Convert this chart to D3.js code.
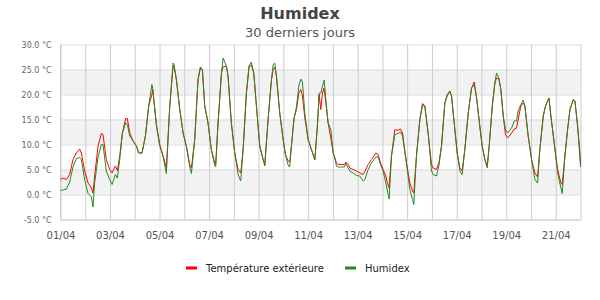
<!DOCTYPE html>
<html>
<head>
<meta charset="utf-8">
<script src="https://cdn.jsdelivr.net/npm/d3@7"></script>
<style>
    body { margin: 0; background: #fff; }
    #chart { width: 600px; height: 300px; }
</style>
</head>
<body>
<div id="chart"></div>
<script>
// Hours since 01/04 00:00
const hours = [
    0, 2.4, 5.7, 8.9, 12.1, 15.4, 18.6, 20.2, 23.4, 26.7, 30.0, 31.5, 33.1, 36.4, 39.6, 41.2,
    44.4, 47.7, 50.0, 53.2, 55.1, 57.4, 60.0, 63.2, 64.8, 67.1, 70.3, 73.5, 75.8, 79.0, 82.3,
    85.5, 88.6, 89.4, 93.0, 96.2, 99.4, 102.6, 105.9, 109.1, 110.0, 112.3, 115.6, 118.8, 122.0,
    125.3, 126.9, 130.1, 133.3, 135.6, 137.5, 139.8, 143.0, 146.2, 149.5, 150.4, 152.7, 156.0,
    157.6, 160.8, 162.4, 165.6, 168.9, 172.1, 174.7, 177.0, 180.2, 182.8, 185.0, 187.3, 189.9,
    193.1, 196.4, 198.0, 201.2, 204.5, 206.1, 207.7, 209.3, 212.5, 215.8, 218.0, 220.6, 222.2,
    223.8, 226.4, 228.7, 231.0, 232.9, 234.5, 236.8, 240.0, 243.2, 246.5, 249.0, 250.7, 252.3,
    253.9, 255.5, 257.8, 259.4, 262.0, 264.3, 265.9, 267.5, 269.1, 272.4, 275.0, 276.6, 278.8,
    280.4, 283.6, 286.9, 290.1, 293.3, 295.0, 298.2, 301.4, 305.6, 307.9, 310.1, 312.7, 315.3,
    316.9, 318.5, 320.8, 324.0, 327.3, 329.5, 331.5, 335.3, 338.6, 341.2, 342.4, 345.0, 348.3,
    350.8, 353.1, 356.3, 359.6, 361.2, 364.4, 366.7, 369.3, 372.5, 374.8, 377.4, 379.0, 381.6,
    384.5, 387.1, 389.3, 391.9, 395.2, 398.4, 401.0, 403.3, 406.5, 408.7, 411.3, 413.6, 415.5,
    418.5, 421.0, 422.6, 424.9, 426.8, 429.1, 431.3, 433.3, 434.9, 437.2, 439.8, 442.0, 443.6,
    446.2, 448.5, 450.1, 453.3, 456.6, 459.8, 462.4, 464.6, 467.9, 470.1, 473.4, 475.3, 478.5,
    481.8, 485.0, 486.3, 488.9, 491.5, 493.8, 497.0, 498.6, 501.2, 503.4, 504.0
];

const tempExt = [
    3.0, 3.3, 3.0, 4.0, 7.0, 8.3, 9.1, 8.3, 4.7, 2.3, 1.3, 0.3, 3.7, 9.7, 12.2, 12.0,
    7.0, 5.0, 4.3, 5.7, 4.8, 7.7, 12.3, 15.2, 15.2, 12.3, 10.7, 9.8, 8.3, 8.3, 11.7,
    17.7, 20.0, 21.0, 14.0, 10.0, 7.8, 5.3, 17.7, 25.5, 25.8, 23.0, 17.0, 12.3, 9.7,
    6.0, 5.3, 11.0, 23.0, 25.3, 25.0, 17.7, 14.3, 9.0, 6.3, 6.0, 14.3, 24.3,
    25.5, 25.7, 23.7, 14.3, 8.3, 5.0, 4.3, 9.0, 20.3, 25.7, 25.8, 24.3, 17.7,
    9.7, 7.0, 6.0, 15.0, 23.0, 25.0, 25.5, 23.7, 16.3, 11.0, 8.0, 6.7, 6.5,
    9.7, 15.3, 17.0, 20.3, 21.0, 19.7, 15.3, 11.0, 9.0, 7.0, 13.7, 20.0, 17.0,
    20.3, 21.3, 17.2, 14.3, 11.3, 8.3, 7.3, 6.3, 6.0, 6.0, 6.0, 6.5, 6.0,
    5.3, 5.0, 4.7, 4.3, 4.0, 4.6, 6.0, 7.0, 8.3, 8.0, 6.3, 5.0, 3.7,
    2.3, 1.3, 7.7, 12.9, 12.9, 13.1, 12.3, 6.3, 2.3, 0.7, 0.3, 7.7, 15.0,
    18.2, 17.7, 12.3, 6.0, 5.3, 5.0, 6.3, 9.7, 18.3, 19.7, 20.7, 19.7, 14.3,
    8.3, 5.3, 4.7, 9.0, 16.3, 21.3, 22.5, 19.3, 13.5, 9.7, 7.0, 5.7, 9.7,
    17.7, 22.3, 23.3, 23.1, 21.0, 15.7, 12.0, 11.3, 11.7, 12.3, 13.1, 13.3, 15.0,
    17.7, 18.3, 17.7, 11.7, 7.0, 4.3, 3.5, 9.0, 15.7, 17.7, 19.3, 15.7, 10.3,
    5.0, 2.3, 2.0, 7.7, 13.0, 17.0, 19.0, 18.7, 13.7, 8.5, 6.0
];

const humidex = [
    0.8, 0.9, 1.1, 2.5, 5.5, 7.2, 7.4, 7.0, 3.0, 0.2, -0.5, -2.5, 2.3, 7.5, 10.0, 10.0,
    4.7, 3.0, 2.0, 4.0, 3.3, 7.0, 12.3, 14.3, 14.0, 11.7, 10.7, 9.7, 8.3, 8.3, 11.7,
    17.7, 22.0, 21.2, 13.7, 9.7, 7.6, 4.2, 17.7, 26.3, 26.0, 23.0, 17.0, 12.3, 9.7,
    5.5, 4.2, 11.0, 23.0, 25.5, 25.0, 17.7, 14.3, 9.0, 5.8, 5.5, 14.3, 24.3,
    27.3, 25.7, 23.7, 14.3, 8.3, 4.0, 2.7, 9.0, 20.3, 25.7, 26.5, 24.3, 17.7,
    9.7, 7.0, 5.7, 15.0, 23.0, 26.0, 26.3, 23.7, 16.3, 11.0, 8.0, 5.9, 5.5,
    9.7, 15.3, 17.5, 21.7, 23.1, 22.5, 16.3, 11.0, 9.0, 6.9, 13.7, 20.3, 20.3,
    21.7, 22.9, 17.7, 14.3, 13.0, 8.3, 7.3, 5.7, 5.5, 5.5, 5.5, 6.2, 5.3,
    4.7, 4.3, 3.8, 3.7, 2.7, 3.0, 5.0, 6.3, 7.5, 7.5, 6.0, 4.7, 2.3,
    0.7, -0.9, 7.7, 12.0, 12.2, 12.5, 11.7, 6.3, 1.0, -1.0, -2.0, 7.7, 15.0,
    17.8, 17.7, 12.3, 4.7, 4.0, 3.7, 5.7, 9.7, 18.3, 20.0, 20.7, 19.7, 14.3,
    8.3, 4.7, 4.0, 9.0, 16.3, 21.3, 22.0, 19.3, 13.5, 9.7, 7.0, 5.3, 9.7,
    17.7, 22.3, 24.3, 23.3, 21.0, 15.7, 13.0, 12.3, 12.7, 13.3, 14.7, 14.7, 16.7,
    18.0, 18.9, 17.7, 11.7, 7.0, 3.0, 2.3, 9.0, 15.7, 17.7, 19.3, 15.7, 10.3,
    4.3, 1.3, 0.2, 7.7, 13.0, 17.0, 19.0, 18.7, 13.7, 7.5, 5.5
];

const yTicks = [-5, 0, 5, 10, 15, 20, 25, 30];
const shadedBands = [[0, 5], [10, 15], [20, 25]];
const seriesNames = ["Température extérieure", "Humidex"];
const seriesColors = ["#ff0000", "#228b22"];

class HumidexChart {
    constructor(parentElement) {
        this.parentElement = parentElement;
        this.start = Date.UTC(2024, 3, 1);
        this.initVis();
    }

    initVis() {
        let vis = this;

        vis.margin = {top: 44.5, right: 19.5, bottom: 80.5, left: 60.5};
        vis.width = 600 - vis.margin.left - vis.margin.right;
        vis.height = 300 - vis.margin.top - vis.margin.bottom;

        vis.root = d3.select(`#${vis.parentElement}`)
            .append("svg")
            .attr("width", 600)
            .attr("height", 300)
            .style("font-family", "'DejaVu Sans', sans-serif");

        vis.svg = vis.root.append("g")
            .attr("transform", `translate(${vis.margin.left},${vis.margin.top})`);

        // Titles
        vis.root.append("text")
            .attr("x", 300).attr("y", 19)
            .attr("text-anchor", "middle")
            .style("font-size", "16px")
            .style("font-weight", "bold")
            .style("fill", "#444")
            .text("Humidex");

        vis.root.append("text")
            .attr("x", 300).attr("y", 37)
            .attr("text-anchor", "middle")
            .style("font-size", "13px")
            .style("fill", "#555")
            .text("30 derniers jours");

        vis.wrangleData();
    }

    wrangleData() {
        let vis = this;

        vis.series = [tempExt, humidex].map((values, i) => ({
            name: seriesNames[i],
            color: seriesColors[i],
            values: values.map((v, j) => ({date: new Date(vis.start + hours[j] * 3600e3), value: v}))
        }));

        vis.updateVis();
    }

    updateVis() {
        let vis = this;

        vis.xScale = d3.scaleUtc()
            .domain([new Date(vis.start), new Date(vis.start + 21 * 24 * 3600e3)])
            .range([0, vis.width]);

        vis.yScale = d3.scaleLinear()
            .domain([-5, 30])
            .range([vis.height, 0]);

        // Alternating background bands
        vis.svg.selectAll(".band")
            .data(shadedBands)
            .enter().append("rect")
            .attr("class", "band")
            .attr("x", 0)
            .attr("width", vis.width)
            .attr("y", d => vis.yScale(d[1]))
            .attr("height", d => vis.yScale(d[0]) - vis.yScale(d[1]))
            .attr("fill", "#f2f2f2");

        // Horizontal grid + y labels
        vis.svg.append("g")
            .attr("class", "y-axis")
            .call(d3.axisLeft(vis.yScale)
                .tickValues(yTicks)
                .tickSize(-vis.width)
                .tickPadding(9)
                .tickFormat(d => d.toFixed(1) + " °C"))
            .call(g => g.select(".domain").remove())
            .call(g => g.selectAll("line").attr("stroke", "#dcdcdc"))
            .call(g => g.selectAll("text")
                .style("font-size", "8px")
                .style("font-family", "'DejaVu Sans', sans-serif")
                .style("fill", "#666"));

        // Vertical day grid
        vis.svg.append("g")
            .attr("class", "x-grid")
            .call(d3.axisBottom(vis.xScale)
                .ticks(d3.utcDay.every(1))
                .tickSize(vis.height)
                .tickFormat(""))
            .call(g => g.select(".domain").remove())
            .call(g => g.selectAll("line").attr("stroke", "#cccccc"));

        // X labels every two days
        vis.svg.append("g")
            .attr("class", "x-axis")
            .attr("transform", `translate(0,${vis.height})`)
            .call(d3.axisBottom(vis.xScale)
                .ticks(d3.utcDay.every(2))
                .tickSize(0)
                .tickPadding(12)
                .tickFormat(d3.utcFormat("%d/%m")))
            .call(g => g.select(".domain").attr("stroke", "#cccccc"))
            .call(g => g.selectAll("text")
                .style("font-size", "10px")
                .style("font-family", "'DejaVu Sans', sans-serif")
                .style("fill", "#555"));

        // Left border
        vis.svg.append("line")
            .attr("x1", 0).attr("x2", 0)
            .attr("y1", 0).attr("y2", vis.height)
            .attr("stroke", "#cccccc");

        // Lines
        vis.line = d3.line()
            .x(d => vis.xScale(d.date))
            .y(d => vis.yScale(d.value));

        vis.svg.selectAll(".series")
            .data(vis.series)
            .enter().append("path")
            .attr("class", "series")
            .attr("d", d => vis.line(d.values))
            .attr("fill", "none")
            .attr("stroke", d => d.color)
            .attr("stroke-width", 1)
            .attr("stroke-linejoin", "round");

        // Legend
        let legendX = [186, 345];
        let legend = vis.root.selectAll(".legend-item")
            .data(vis.series)
            .enter().append("g")
            .attr("class", "legend-item")
            .attr("transform", (d, i) => `translate(${legendX[i]},268)`);

        legend.append("rect")
            .attr("x", 0).attr("y", -1.5)
            .attr("width", 11).attr("height", 3)
            .attr("fill", d => d.color);

        legend.append("text")
            .attr("x", 20).attr("y", 4)
            .style("font-size", "10px")
            .style("fill", "#222")
            .text(d => d.name);
    }
}

new HumidexChart("chart");
</script>
</body>
</html>
